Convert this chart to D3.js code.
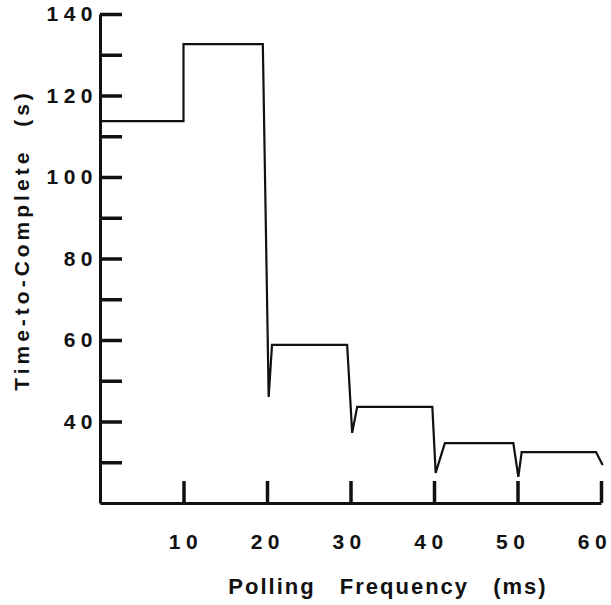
<!DOCTYPE html>
<html>
<head>
<meta charset="utf-8">
<script src="https://cdn.jsdelivr.net/npm/d3@7"></script>
<style>
  body { margin: 0; background: #fff; }
  svg text { font-family: "Liberation Sans", Arial, sans-serif; fill: #111; }
</style>
</head>
<body>
<svg id="viz" width="611" height="605"></svg>
<script>
// step trace: polling frequency (ms) vs time-to-complete (s)
var freq = [0, 10, 10, 19.5, 20.2, 20.6, 29.6, 30.2, 30.8, 39.8, 40.2, 41.3, 49.5, 50.1, 50.5, 59.4, 60.2];
var time = [113.7, 113.7, 132.6, 132.6, 46, 58.8, 58.8, 37.2, 43.6, 43.6, 27.4, 34.7, 34.7, 26.4, 32.5, 32.5, 29.3];

var xTicks = [10, 20, 30, 40, 50, 60];
var yTicks = [30, 40, 50, 60, 70, 80, 90, 100, 110, 120, 130, 140];
var yLabels = [40, 60, 80, 100, 120, 140];

var svg = d3.select("#viz"),
    margin = { top: 14, right: 10, bottom: 102, left: 100 },
    width = 601 - margin.left,
    height = 503 - margin.top,
    g = svg.append("g").attr("transform", "translate(" + margin.left + "," + margin.top + ")");

var x = d3.scaleLinear().domain([0, 60]).range([0, width]);
var y = d3.scaleLinear().domain([20, 140]).range([height, 0]);

// axes, ticks pointing inward
var xAxis = g.append("g").attr("transform", "translate(0," + height + ")")
    .call(d3.axisBottom(x).tickValues(xTicks).tickSizeInner(-22).tickSizeOuter(0).tickPadding(31).tickFormat(d3.format("d")));
var yAxis = g.append("g")
    .call(d3.axisLeft(y).tickValues(yTicks).tickSizeInner(-22).tickSizeOuter(0).tickPadding(2)
        .tickFormat(function(d) { return yLabels.indexOf(d) >= 0 ? d : ""; }));

[xAxis, yAxis].forEach(function(a) {
    a.select(".domain").attr("stroke", "#111").attr("stroke-width", 3);
    a.selectAll(".tick line").attr("stroke", "#111").attr("stroke-width", 3.5);
    a.selectAll(".tick text").style("font-size", "21px").style("font-weight", "bold")
        .style("letter-spacing", "5.5px");
});
// labels on the original drift a little left of their ticks
xAxis.selectAll(".tick text").attr("dx", function(d, i) { return (2 - i * 1.7) + "px"; });

// trace
var pts = freq.map(function(f, i) { return [f, time[i]]; });
g.append("path")
    .datum(pts)
    .attr("fill", "none")
    .attr("stroke", "#111")
    .attr("stroke-width", 2.2)
    .attr("stroke-linejoin", "miter")
    .attr("d", d3.line().x(d => x(d[0])).y(d => y(d[1])));

// axis titles
svg.append("text")
    .attr("x", 388).attr("y", 594)
    .attr("text-anchor", "middle")
    .style("font-size", "22px").style("font-weight", "bold")
    .style("letter-spacing", "2px").style("word-spacing", "16px")
    .text("Polling Frequency (ms)");

svg.append("text")
    .attr("transform", "translate(29,240) rotate(-90)")
    .attr("text-anchor", "middle")
    .style("font-size", "21px").style("font-weight", "bold")
    .style("letter-spacing", "4px").style("word-spacing", "12px")
    .text("Time-to-Complete (s)");
</script>
</body>
</html>
